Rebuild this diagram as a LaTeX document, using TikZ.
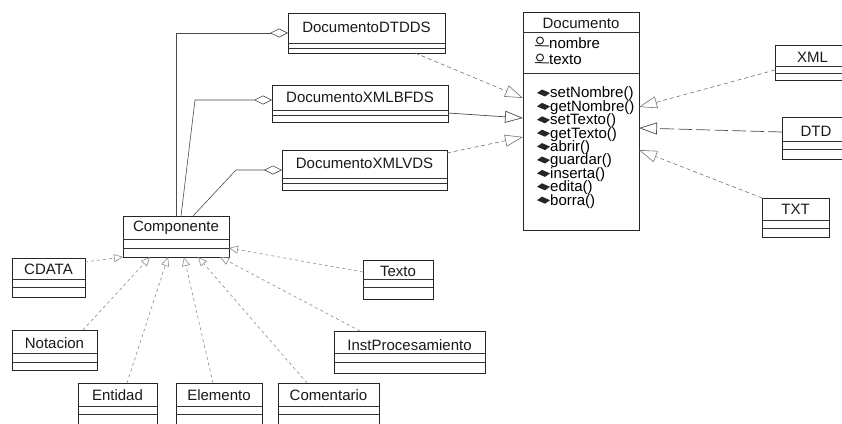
\documentclass[tikz,border=0pt]{standalone}
\usepackage{fontspec}
\setmainfont{Liberation Sans}
\usetikzlibrary{arrows.meta}

\tikzset{
  clsbox/.style={draw=black!85, line width=0.7pt, inner sep=0pt, outer sep=0pt, fill=white},
  sepline/.style={draw=black!80, line width=0.7pt},
  lbl/.style={inner sep=0pt, font=\fontsize{15}{15}\selectfont, text=black!90},
  memb/.style={inner sep=0pt, anchor=west, font=\fontsize{15}{15}\selectfont, text=black},
  agg/.style={draw=black!70, line width=0.6pt, -{Diamond[open,length=18pt,width=9pt]}},
  realiz/.style={draw=black!55, line width=0.6pt, dash pattern=on 4pt off 3pt, -{Triangle[open,length=18pt,width=12pt]}},
  realizsolid/.style={draw=black!70, line width=0.7pt, -{Triangle[open,length=18pt,width=12pt]}},
  realizlong/.style={draw=black!70, line width=0.7pt, dash pattern=on 14pt off 4pt, -{Triangle[open,length=18pt,width=12pt]}},
  gener/.style={draw=black!45, line width=0.6pt, dash pattern=on 3pt off 3pt, -{Triangle[open,length=9pt,width=8pt]}},
  attricon/.style={draw=black!85, line width=1pt},
  methicon/.style={fill=black!85},
}

% class box: name, left, top, right, bottom, separator 1, separator 2, label y, label
\newcommand\umlclass[9]{%
  \node[clsbox, anchor=north west, minimum width={(#4)-(#2)}, minimum height={(#5)-(#3)}] (#1) at (#2,#3) {};
  \draw[sepline] (#2,#6) -- (#4,#6) (#2,#7) -- (#4,#7);
  \node[lbl] (#1-name) at ({((#2)+(#4))/2},#8) {#9};
}

\begin{document}
\begin{tikzpicture}[x=1pt,y=-1pt]
\useasboundingbox (0,0) rectangle (842,423);
\fill[white] (0,0) rectangle (842,423);
\clip (0,0) rectangle (842,423);

% ---- classes ----
\umlclass{dtdds}{288}{13}{445}{53}{43}{48}{27}{DocumentoDTDDS}
\umlclass{xmlbfds}{272}{85}{448}{122}{110}{115}{97}{DocumentoXMLBFDS}
\umlclass{xmlvds}{282}{150}{447}{190}{178}{183}{163}{DocumentoXMLVDS}
\umlclass{xml}{775}{45}{850}{80}{66}{73}{57}{XML}
\umlclass{dtd}{782}{117}{850}{159}{141}{149}{131}{DTD}
\umlclass{txt}{762}{198}{829}{237}{220}{228}{209}{TXT}
\umlclass{comp}{123}{216}{229}{257}{239}{248}{228}{Componente}
\umlclass{cdata}{12}{258}{85}{297}{279}{287}{269}{CDATA}
\umlclass{notacion}{12}{330}{97}{370}{353}{362}{343}{Notacion}
\umlclass{entidad}{78}{383}{157}{430}{406}{414}{395}{Entidad}
\umlclass{elemento}{176}{383}{262}{430}{406}{414}{395}{Elemento}
\umlclass{comentario}{278}{383}{379}{430}{406}{414}{395}{Comentario}
\umlclass{inst}{334}{331}{485}{373}{353}{362}{345}{InstProcesamiento}
\umlclass{texto}{363}{260}{433}{299}{279}{287}{271}{Texto}

% ---- Documento with attributes and operations ----
\node[clsbox, anchor=north west, minimum width=116, minimum height=218] (doc) at (523,12) {};
\draw[sepline] (523,32) -- (639,32) (523,73) -- (639,73);
\node[lbl] (doc-name) at (581,23) {Documento};

\node[memb] (a1) at (549,43) {nombre};
\node[memb] (a2) at (549,60) {texto};
\foreach \y in {43,60}{
  \begin{scope}[shift={(541,\y)}]
    \draw[attricon] (-1,-2.5) circle[radius=3.5];
    \draw[attricon] (-6,2.5) -- (8,3);
  \end{scope}
}

\node[memb] (m1) at (550,94.0) {setNombre()};
\node[memb] (m2) at (550,107.4) {getNombre()};
\node[memb] (m3) at (550,120.8) {setTexto()};
\node[memb] (m4) at (550,134.2) {getTexto()};
\node[memb] (m5) at (550,147.6) {abrir()};
\node[memb] (m6) at (550,161.0) {guardar()};
\node[memb] (m7) at (550,174.4) {inserta()};
\node[memb] (m8) at (550,187.8) {edita()};
\node[memb] (m9) at (550,201.2) {borra()};
\foreach \y in {94.0,107.4,120.8,134.2,147.6,161.0,174.4,187.8,201.2}{
  \begin{scope}[shift={(544,\y)}]
    \fill[methicon] (-7,-1) -- (-2,-4.5) -- (6,-1) -- (1,2.5) -- cycle;
  \end{scope}
}

% ---- aggregations of Componente ----
\draw[agg] (comp.north) -- (176,33) -- (dtdds.west |- 0,33);
\draw[agg] ([xshift=5pt]comp.north) -- (195,100) -- ([yshift=3.5pt]xmlbfds.west);
\draw[agg] ([xshift=17pt]comp.north) -- (236,170) -- (xmlvds.west);

% ---- realizations of Documento ----
\draw[realiz] ([xshift=48.5pt]dtdds.south) -- ([yshift=23pt]doc.west);
\draw[realizsolid] ([yshift=-9.5pt]xmlbfds.east) -- ([yshift=3pt]doc.west);
\draw[realiz] ([yshift=17pt]xmlvds.east) -- ([yshift=-16pt]doc.west);
\draw[realiz] ([yshift=-7.5pt]xml.west) -- ([yshift=14pt]doc.east);
\draw[realizlong] ([yshift=6pt]dtd.west) -- ([yshift=-7pt]doc.east);
\draw[realiz] (txt.north west) -- ([yshift=-29pt]doc.east);

% ---- specializations of Componente ----
\draw[gener] ([yshift=15.5pt]cdata.east) -- (comp.south west);
\draw[gener] ([xshift=-14pt]notacion.north east) -- ([xshift=-26pt]comp.south);
\draw[gener] ([xshift=9.5pt]entidad.north) -- ([xshift=-8pt]comp.south);
\draw[gener] ([xshift=-6pt]elemento.north) -- ([xshift=8pt]comp.south);
\draw[gener] ([xshift=-21.5pt]comentario.north) -- ([xshift=22pt]comp.south);
\draw[gener] ([xshift=26pt]inst.north west) -- ([xshift=44pt]comp.south);
\draw[gener] ([yshift=7.5pt]texto.west) -- ([yshift=-11.5pt]comp.east);
\end{tikzpicture}
\end{document}
